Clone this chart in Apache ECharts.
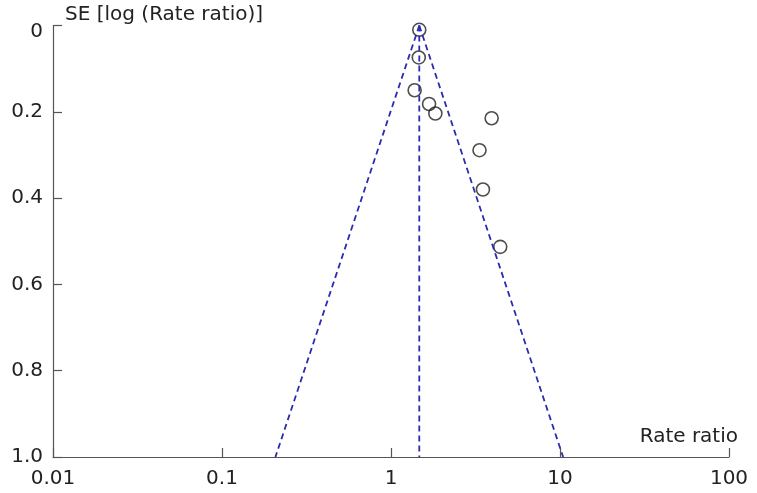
<!DOCTYPE html>
<html>
<head>
<meta charset="utf-8">
<script src="https://cdn.jsdelivr.net/npm/echarts@6/dist/echarts.min.js"></script>
<style>html,body{margin:0;padding:0;background:#fff;}#c{width:757px;height:493px;}</style>
</head>
<body>
<div id="c"></div>
<script>
var rateRatio = [1.47, 1.46, 1.38, 1.68, 1.83, 3.94, 3.34, 3.50, 4.43];
var seLog = [0.01, 0.074, 0.150, 0.182, 0.204, 0.215, 0.289, 0.380, 0.513];
var pooled = 1.47;
var seMax = 1.0;
var xTicks = [0.01, 0.1, 1, 10, 100];
var yTickLabels = ['0', '0.2', '0.4', '0.6', '0.8', '1.0'];

var lo = Math.exp(Math.log(pooled) - 1.96 * seMax);
var hi = Math.exp(Math.log(pooled) + 1.96 * seMax);
var lineStyle = { color: '#2c2cb0', width: 1.8, type: [6, 4] };
var font = 'DejaVu Sans';

var chart = echarts.init(document.getElementById('c'));
chart.setOption({
  animation: false,
  grid: { left: 53, right: 28, top: 25.5, bottom: 36, containLabel: false },
  xAxis: {
    type: 'log', logBase: 10, min: 0.01, max: 100, position: 'bottom',
    name: 'Rate ratio', nameLocation: 'end', nameGap: 9,
    nameTextStyle: { fontFamily: font, fontSize: 20, color: '#222', align: 'right', verticalAlign: 'bottom', padding: [0, 0, 10, 0] },
    axisLine: { show: true, onZero: false, lineStyle: { color: '#555', width: 1.2 } },
    axisTick: { show: true, inside: true, length: 9, lineStyle: { color: '#555', width: 1.2 } },
    axisLabel: { fontFamily: font, fontSize: 20, color: '#222', margin: 12,
      formatter: function (v) { var t = xTicks.find(function (k) { return Math.abs(k - v) / k < 1e-6; }); return t === undefined ? '' : String(t); } },
    splitLine: { show: false }, minorTick: { show: false }
  },
  yAxis: {
    type: 'value', inverse: true, min: 0, max: 1, interval: 0.2,
    name: 'SE [log (Rate ratio)]', nameLocation: 'start', nameGap: 1,
    nameTextStyle: { fontFamily: font, fontSize: 20, color: '#222', align: 'left', padding: [0, 0, 0, 12] },
    axisLine: { show: true, onZero: false, lineStyle: { color: '#555', width: 1.2 } },
    axisTick: { show: true, inside: true, length: 9, lineStyle: { color: '#555', width: 1.2 } },
    axisLabel: { fontFamily: font, fontSize: 20, color: '#222', margin: 10,
      formatter: function (v) { var s = yTickLabels[Math.round(v / 0.2)]; return v === 0 ? '{top|' + s + '}' : s; },
      rich: { top: { fontFamily: font, fontSize: 20, color: '#222', padding: [12, 0, 0, 0] } } },
    splitLine: { show: false }
  },
  series: [
    { type: 'line', data: [[pooled, 0], [lo, seMax]], symbol: 'none', lineStyle: lineStyle, silent: true },
    { type: 'line', data: [[pooled, 0], [hi, seMax]], symbol: 'none', lineStyle: lineStyle, silent: true },
    { type: 'line', data: [[pooled, 0], [pooled, seMax]], symbol: 'none', lineStyle: lineStyle, silent: true },
    { type: 'scatter', data: rateRatio.map(function (r, i) { return [r, seLog[i]]; }),
      symbol: 'circle', symbolSize: 13,
      itemStyle: { color: 'rgba(0,0,0,0)', borderColor: '#222', borderWidth: 1.6 } }
  ]
});
</script>
</body>
</html>
